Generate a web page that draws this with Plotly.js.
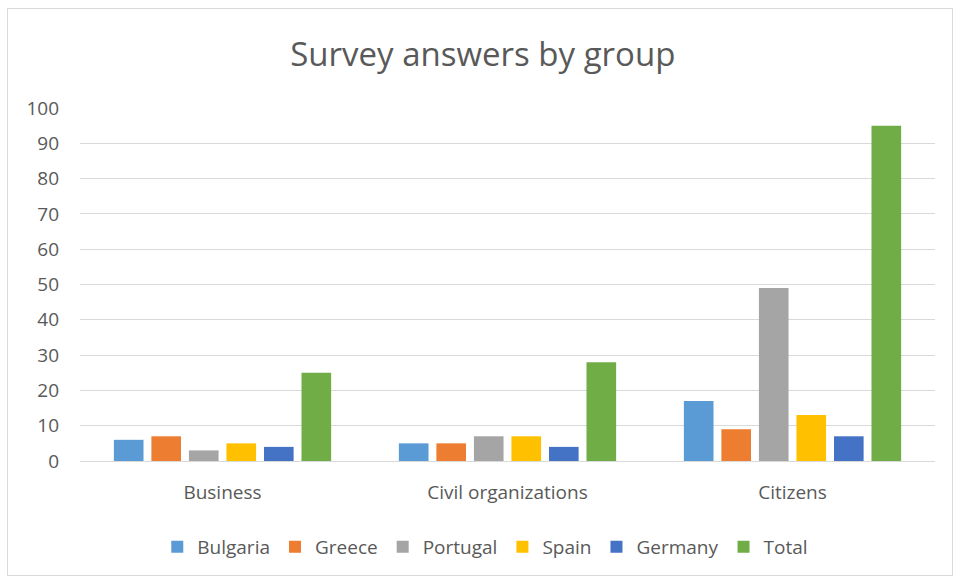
<!DOCTYPE html>
<html>
<head>
<meta charset="utf-8">
<script src="https://cdn.plot.ly/plotly-3.0.1.min.js"></script>
<style>
html,body{margin:0;padding:0;background:#fff;}
#wrap{position:relative;width:956px;height:577px;}
#chart{width:956px;height:577px;}
#frame{position:absolute;left:7px;top:8px;width:944px;height:566px;border:1px solid #d9d9d9;pointer-events:none;}
</style>
</head>
<body>
<div id="wrap"><div id="chart"></div><div id="frame"></div></div>
<script>
const categories = ["Business", "Civil organizations", "Citizens"];
const seriesNames = ["Bulgaria", "Greece", "Portugal", "Spain", "Germany", "Total"];
const bulgaria = [6, 5, 17];
const greece = [7, 5, 9];
const portugal = [3, 7, 49];
const spain = [5, 7, 13];
const germany = [4, 4, 7];
const total = [25, 28, 95];
const colors = ["#5B9BD5", "#ED7D31", "#A5A5A5", "#FFC000", "#4472C4", "#70AD47"];
const yTicks = [0, 10, 20, 30, 40, 50, 60, 70, 80, 90, 100];

const values = [bulgaria, greece, portugal, spain, germany, total];
const traces = seriesNames.map((n, i) => ({
  type: "bar",
  name: n,
  x: categories,
  y: values[i],
  marker: {color: colors[i]},
  hoverinfo: "x+y+name"
}));

const font = "Open Sans, Liberation Sans, sans-serif";
const layout = {
  width: 956, height: 577,
  margin: {l: 80, r: 21, t: 108, b: 115},
  paper_bgcolor: "#fff", plot_bgcolor: "#fff",
  title: {text: "Survey answers by group", x: 0.505, xanchor: "center", y: 0.905, yanchor: "middle",
          font: {family: font, size: 33, color: "#595959"}},
  barmode: "group",
  bargap: 0.21,
  bargroupgap: 0.21,
  xaxis: {
    showline: true, linecolor: "#d9d9d9", linewidth: 1,
    ticks: "", tickfont: {family: font, size: 19, color: "#595959"},
    ticklabelstandoff: 14,
    fixedrange: true
  },
  yaxis: {
    range: [0, 100], tickvals: yTicks, ticktext: yTicks.map(String),
    showgrid: true, gridcolor: "#d9d9d9", gridwidth: 1,
    zeroline: false, showline: false, ticks: "",
    tickfont: {family: font, size: 19, color: "#595959"},
    ticklabelstandoff: 20,
    fixedrange: true
  },
  showlegend: true,
  legend: {orientation: "h", x: 0.474, xanchor: "center", y: -0.24, yanchor: "middle",
           font: {family: font, size: 19, color: "#595959"}, itemwidth: 30, traceorder: "normal"}
};

Plotly.newPlot("chart", traces, layout, {displayModeBar: false, staticPlot: true});
</script>
</body>
</html>
